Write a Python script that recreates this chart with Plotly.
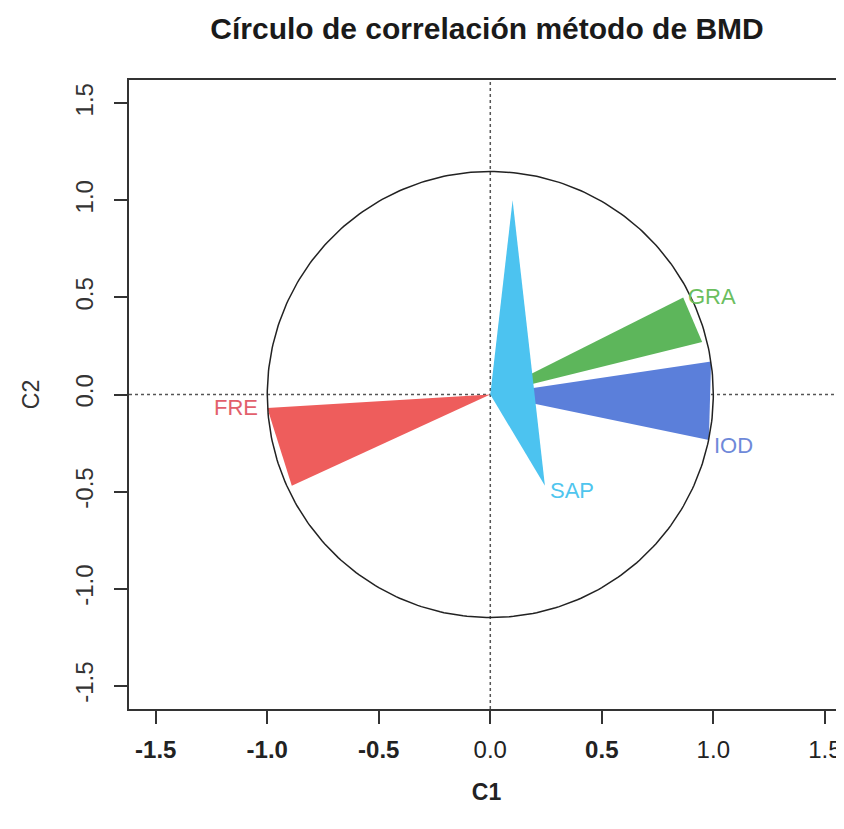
import numpy as np
import plotly.graph_objects as go

# ---- data ----
variables = ["FRE", "GRA", "IOD", "SAP"]
tip1_x = [-1.00, 0.865, 0.99, 0.10]
tip1_y = [-0.07, 0.50, 0.17, 1.00]
tip2_x = [-0.89, 0.95, 0.98, 0.245]
tip2_y = [-0.47, 0.27, -0.235, -0.47]
fill_colors = ["#EE5D5C", "#5DB65B", "#5B7FDA", "#4CC3F0"]
label_colors = ["#E2606C", "#6BBE5E", "#6E89D9", "#4FC5EE"]
label_at_tip = [1, 1, 2, 2]          # which tip carries the label
label_side = ["left", "right", "right", "right"]
label_yshift = [1, 1, -5, -5]
tick_vals = [-1.5, -1.0, -0.5, 0.0, 0.5, 1.0, 1.5]
x_tick_text = ["<b>-1.5</b>", "<b>-1.0</b>", "<b>-0.5</b>", "0.0", "<b>0.5</b>", "1.0", "1.5"]
y_tick_text = ["-1.5", "-1.0", "-0.5", "0.0", "0.5", "1.0", "1.5"]
circle_radius = 1.0

# ---- layout geometry (page body has an 8px margin) ----
W, H = 836, 821
ml, mr, mt, mb = 121, 0, 72, 120
x_range = [-1.62, 1.586]
y_range = [-1.62, 1.62]
px_per_x = (W - ml - mr) / (x_range[1] - x_range[0])
px_per_y = (H - mt - mb) / (y_range[1] - y_range[0])
ky = px_per_x / px_per_y  # keeps the circle round on screen

FONT = "Liberation Sans, Arial, sans-serif"

fig = go.Figure()

for i, v in enumerate(variables):
    fig.add_trace(go.Scatter(
        x=[0, tip1_x[i], tip2_x[i], 0],
        y=[0, tip1_y[i], tip2_y[i], 0],
        mode="lines", fill="toself", fillcolor=fill_colors[i],
        line=dict(width=0, color=fill_colors[i]),
        hoverinfo="skip", showlegend=False, name=v))

# circle
t = np.linspace(0, 2 * np.pi, 361)
fig.add_trace(go.Scatter(
    x=circle_radius * np.cos(t), y=circle_radius * ky * np.sin(t),
    mode="lines", line=dict(color="#222222", width=1.5),
    hoverinfo="skip", showlegend=False))

# labels
for i, v in enumerate(variables):
    lx = tip1_x[i] if label_at_tip[i] == 1 else tip2_x[i]
    ly = tip1_y[i] if label_at_tip[i] == 1 else tip2_y[i]
    fig.add_annotation(
        x=lx, y=ly, text=v, showarrow=False,
        xanchor="right" if label_side[i] == "left" else "left",
        yanchor="middle", xshift=-7 if label_side[i] == "left" else 3,
        yshift=label_yshift[i],
        font=dict(family=FONT, size=22, color=label_colors[i]))

# dotted reference lines
fig.add_shape(type="line", xref="x", yref="paper", x0=0, x1=0, y0=0, y1=1,
              line=dict(color="#555555", width=1.5, dash="dot"), layer="below")
fig.add_shape(type="line", xref="paper", yref="y", x0=0, x1=1, y0=0, y1=0,
              line=dict(color="#555555", width=1.5, dash="dot"), layer="below")

fig.update_layout(
    width=W, height=H,
    margin=dict(l=ml, r=mr, t=mt, b=mb, autoexpand=False),
    paper_bgcolor="white", plot_bgcolor="white",
    title=dict(text="<b>Círculo de correlación método de BMD</b>",
               x=0.573, xanchor="center", y=0.9756, yanchor="middle",
               font=dict(family=FONT, size=30, color="#1a1a1a")),
    xaxis=dict(range=x_range, tickvals=tick_vals, ticktext=x_tick_text,
               automargin=False,
               showgrid=False, zeroline=False, showline=True, mirror=True,
               linecolor="#333333", linewidth=1.5,
               ticks="outside", ticklen=13, tickwidth=1.5, tickcolor="#333333",
               ticklabelstandoff=5,
               tickfont=dict(family=FONT, size=24, color="#222222"),
               title=dict(text="<b>C1</b>", standoff=22,
                          font=dict(family=FONT, size=23, color="#222222"))),
    yaxis=dict(range=y_range, tickvals=tick_vals, ticktext=y_tick_text,
               automargin=False,
               showgrid=False, zeroline=False, showline=True, mirror=False,
               linecolor="#333333", linewidth=1.5,
               ticks="outside", ticklen=13, tickwidth=1.5, tickcolor="#333333",
               tickangle=-90, ticklabelstandoff=12,
               tickfont=dict(family=FONT, size=24, color="#333333"),
               title=dict(text="C2", standoff=25,
                          font=dict(family=FONT, size=23, color="#333333"))),
)

fig.write_html("out.html")
